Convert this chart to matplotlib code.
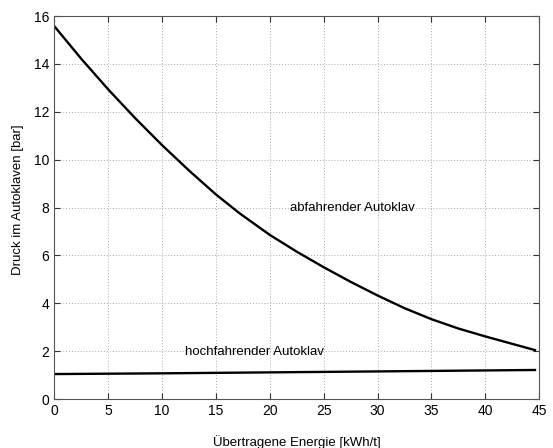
import matplotlib.pyplot as plt

# Druckverlauf beim Dampfueberstroemen
energie_ab = [0, 2.5, 5, 7.5, 10, 12.5, 15, 17.2, 20, 22.5, 25, 27.5, 30, 32.5, 35, 37.5, 40, 42.5, 44.6]
druck_ab = [15.58, 14.22, 12.94, 11.74, 10.61, 9.55, 8.55, 7.76, 6.86, 6.16, 5.51, 4.9, 4.33, 3.8, 3.34, 2.95, 2.62, 2.31, 2.05]

energie_hoch = [0, 10, 20, 30, 44.6]
druck_hoch = [1.05, 1.08, 1.12, 1.16, 1.22]

xticks = [0, 5, 10, 15, 20, 25, 30, 35, 40, 45]
yticks = [0, 2, 4, 6, 8, 10, 12, 14, 16]

plt.rcParams["font.family"] = ["Liberation Sans", "DejaVu Sans"]
plt.rcParams["font.size"] = 9.5

fig = plt.figure(figsize=(5.53, 4.48), dpi=100)
ax = fig.add_axes([54.2 / 553, 1 - 399.2 / 448, 485.1 / 553, 383.2 / 448])

ax.plot(energie_ab, druck_ab, color="black", lw=1.7)
ax.plot(energie_hoch, druck_hoch, color="black", lw=1.7)

ax.text(21.9, 8.0, "abfahrender Autoklav", va="center", ha="left")
ax.text(12.1, 1.97, "hochfahrender Autoklav", va="center", ha="left")

ax.set_xlim(0, 45)
ax.set_ylim(0, 16)
ax.set_xticks(xticks)
ax.set_yticks(yticks)
ax.tick_params(direction="in", top=True, right=True, length=4, colors="#333333",
               labelcolor="black", labelsize=10)
for s in ax.spines.values():
    s.set_color("#555555")
    s.set_linewidth(0.8)
ax.grid(True, linestyle=(0, (1, 2)), color="#aaaaaa", linewidth=0.7)

ax.set_xlabel("Übertragene Energie [kWh/t]", va="center")
ax.xaxis.set_label_coords(0.5, -0.112)
ax.set_ylabel("Druck im Autoklaven [bar]", va="center")
ax.yaxis.set_label_coords(-0.074, 0.52)

fig.savefig("out.png", dpi=100)
